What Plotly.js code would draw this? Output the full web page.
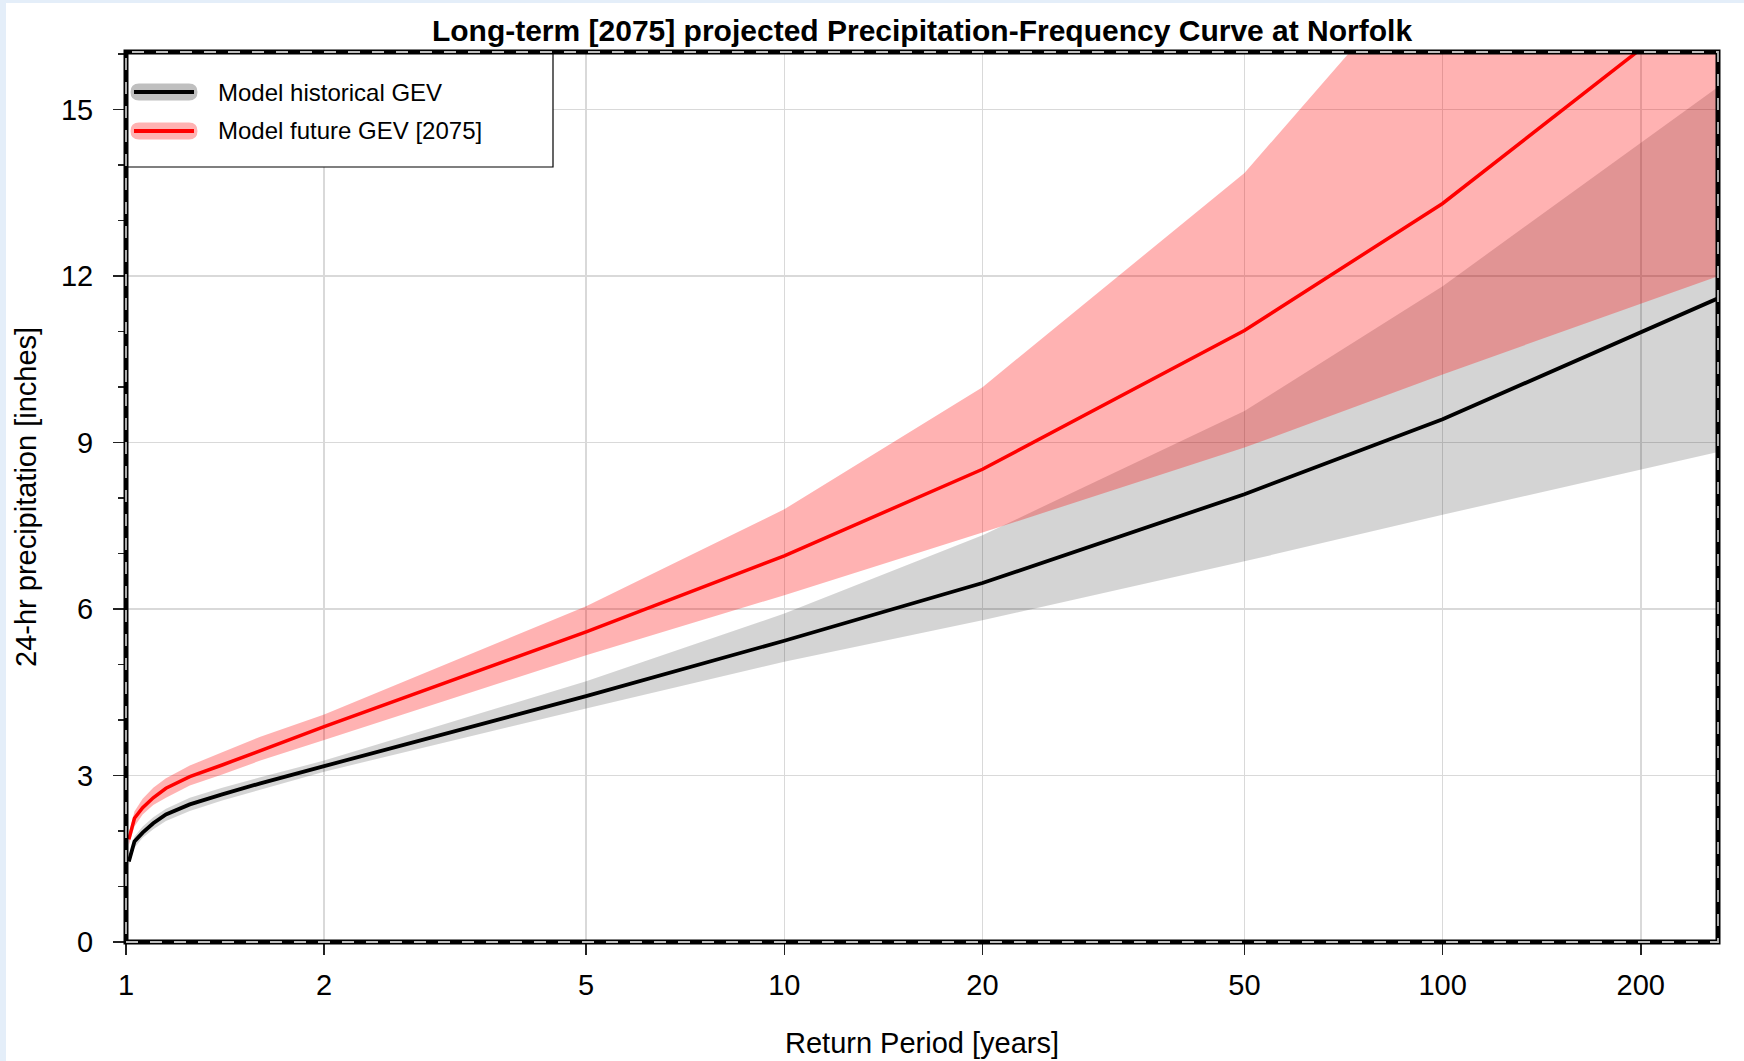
<!DOCTYPE html>
<html>
<head>
<meta charset="utf-8">
<script src="https://cdn.plot.ly/plotly-3.0.1.min.js"></script>
<style>
  html, body { margin: 0; padding: 0; background: #ffffff; }
  #chart { width: 1744px; height: 1061px; }
</style>
</head>
<body>
<div id="chart"></div>
<script>
// ---- Data ----
const returnPeriod = [1.01, 1.03, 1.06, 1.1, 1.15, 1.25, 1.4, 1.6, 2, 5, 10, 20, 50, 100, 262];

const histMedian = [1.45, 1.81, 1.97, 2.14, 2.3, 2.48, 2.66, 2.86, 3.17, 4.43, 5.43, 6.47, 8.07, 9.42, 11.6];
const histUpper  = [1.55, 1.9, 2.08, 2.25, 2.4, 2.6, 2.78, 2.97, 3.27, 4.7, 5.92, 7.33, 9.57, 11.82, 15.41];
const histLower  = [1.38, 1.7, 1.88, 2.03, 2.18, 2.36, 2.55, 2.74, 3.07, 4.21, 5.05, 5.8, 6.86, 7.7, 8.83];

const futMedian  = [1.85, 2.23, 2.42, 2.6, 2.77, 2.98, 3.19, 3.45, 3.88, 5.59, 6.96, 8.52, 11.02, 13.31, 17.18];
const futUpper   = [1.95, 2.35, 2.58, 2.78, 2.95, 3.18, 3.42, 3.7, 4.1, 6.05, 7.8, 10.0, 13.86, 17.96, 24.7];
const futLower   = [1.75, 2.08, 2.3, 2.47, 2.6, 2.82, 3.02, 3.27, 3.64, 5.17, 6.25, 7.38, 8.91, 10.23, 12.0];

const xTickVals = [1, 2, 5, 10, 20, 50, 100, 200];
const xTickText = ['1', '2', '5', '10', '20', '50', '100', '200'];
const yTickVals = [0, 3, 6, 9, 12, 15];

const seriesNames = ['Model historical GEV', 'Model future GEV [2075]'];
const titleText = 'Long-term [2075] projected Precipitation-Frequency Curve at Norfolk';
const xTitleText = 'Return Period [years]';
const yTitleText = '24-hr precipitation [inches]';

// ---- Styles ----
const FONT = '"Liberation Sans", Arial, Helvetica, sans-serif';
const grayBand = 'rgba(0,0,0,0.17)';
const redBand = 'rgba(255,0,0,0.30)';

const traces = [
  { x: returnPeriod, y: histLower, type: 'scatter', mode: 'lines', line: { width: 0, color: grayBand }, showlegend: false, hoverinfo: 'skip' },
  { x: returnPeriod, y: histUpper, type: 'scatter', mode: 'lines', line: { width: 0, color: grayBand }, fill: 'tonexty', fillcolor: grayBand, showlegend: false, hoverinfo: 'skip' },
  { x: returnPeriod, y: futLower, type: 'scatter', mode: 'lines', line: { width: 0, color: redBand }, showlegend: false, hoverinfo: 'skip' },
  { x: returnPeriod, y: futUpper, type: 'scatter', mode: 'lines', line: { width: 0, color: redBand }, fill: 'tonexty', fillcolor: redBand, showlegend: false, hoverinfo: 'skip' },
  { x: returnPeriod, y: histMedian, type: 'scatter', mode: 'lines', name: seriesNames[0], line: { width: 3.8, color: '#000000' }, showlegend: false },
  { x: returnPeriod, y: futMedian, type: 'scatter', mode: 'lines', name: seriesNames[1], line: { width: 3.5, color: '#ff0000' }, showlegend: false }
];

// plot area in pixels
const W = 1744, H = 1061;
const mL = 126, mR = 26, mT = 52, mB = 119;
const pw = W - mL - mR, ph = H - mT - mB;
const px = v => (v - mL) / pw;          // pixel x -> paper
const py = v => (H - mB - v) / ph;      // pixel y -> paper

function capsule(cx, cy, color) {
  return {
    type: 'path', layer: 'above',
    xref: 'paper', yref: 'paper', xsizemode: 'pixel', ysizemode: 'pixel',
    xanchor: px(cx), yanchor: py(cy),
    path: 'M -25 -8.5 L 25 -8.5 Q 33.5 -8.5 33.5 0 Q 33.5 8.5 25 8.5 L -25 8.5 Q -33.5 8.5 -33.5 0 Q -33.5 -8.5 -25 -8.5 Z',
    fillcolor: color, line: { width: 0 }
  };
}
function legLine(cx, cy, color) {
  return {
    type: 'line', layer: 'above',
    xref: 'paper', yref: 'paper', xsizemode: 'pixel', ysizemode: 'pixel',
    xanchor: px(cx), yanchor: py(cy),
    x0: -30, x1: 30, y0: 0, y1: 0,
    line: { color: color, width: 4 }
  };
}

const legY1 = 92, legY2 = 131, legCx = 164;

const shapes = [
  // light blue screenshot edge
  { type: 'rect', xref: 'paper', yref: 'paper', x0: px(0), x1: px(6), y0: py(H), y1: py(0), fillcolor: '#e4eef9', line: { width: 0 }, layer: 'below' },
  { type: 'rect', xref: 'paper', yref: 'paper', x0: px(0), x1: px(W), y0: py(3), y1: py(0), fillcolor: '#e4eef9', line: { width: 0 }, layer: 'below' },
  // legend box
  { type: 'rect', xref: 'paper', yref: 'paper', layer: 'above', x0: 0, x1: px(553), y0: py(167), y1: 1, fillcolor: '#ffffff', line: { color: '#000000', width: 1.2 } },
  capsule(legCx, legY1, 'rgba(0,0,0,0.25)'),
  legLine(legCx, legY1, '#000000'),
  capsule(legCx, legY2, 'rgba(255,0,0,0.30)'),
  legLine(legCx, legY2, '#ff0000'),
  // plot border: thick black with gray dashes
  { type: 'rect', xref: 'paper', yref: 'paper', layer: 'above', x0: 0, x1: 1, y0: 0, y1: 1, line: { color: '#000000', width: 5 } },
  { type: 'rect', xref: 'paper', yref: 'paper', layer: 'above', x0: 0, x1: 1, y0: 0, y1: 1, line: { color: '#bdbdbd', width: 1.8, dash: '12px,12px' } }
];

const annotations = [
  { text: seriesNames[0], xref: 'paper', yref: 'paper', x: px(216), y: py(legY1), xanchor: 'left', yanchor: 'middle', showarrow: false, font: { family: FONT, size: 24, color: '#000' } },
  { text: seriesNames[1], xref: 'paper', yref: 'paper', x: px(216), y: py(legY2), xanchor: 'left', yanchor: 'middle', showarrow: false, font: { family: FONT, size: 24, color: '#000' } },
  { text: xTitleText, xref: 'paper', yref: 'paper', x: 0.5, y: py(1043), xanchor: 'center', yanchor: 'middle', showarrow: false, font: { family: FONT, size: 29, color: '#000' } },
  { text: yTitleText, xref: 'paper', yref: 'paper', x: px(26), y: 0.5, xanchor: 'center', yanchor: 'middle', textangle: -90, showarrow: false, font: { family: FONT, size: 29, color: '#000' } }
];

const layout = {
  width: W, height: H,
  margin: { l: mL, r: mR, t: mT, b: mB, pad: 0 },
  paper_bgcolor: '#ffffff', plot_bgcolor: '#ffffff',
  showlegend: false,
  font: { family: FONT, color: '#000000' },
  title: {
    text: '<b>' + titleText + '</b>',
    font: { family: FONT, size: 30, color: '#000000' },
    xref: 'paper', x: 0.5, xanchor: 'center',
    yref: 'container', y: 1 - 30 / H, yanchor: 'middle'
  },
  xaxis: {
    type: 'log', range: [0, Math.log10(262)],
    tickmode: 'array', tickvals: xTickVals, ticktext: xTickText,
    ticks: 'outside', ticklen: 12, tickwidth: 1.5, tickcolor: '#222',
    ticklabelstandoff: 5,
    tickfont: { family: FONT, size: 29, color: '#000' },
    showgrid: true, gridcolor: '#d9d9d9', gridwidth: 1.5,
    zeroline: false, showline: false, fixedrange: true
  },
  yaxis: {
    range: [0, 16.04],
    tickmode: 'array', tickvals: yTickVals,
    ticks: 'outside', ticklen: 12, tickwidth: 1.5, tickcolor: '#222',
    ticklabelstandoff: 14,
    tickfont: { family: FONT, size: 29, color: '#000' },
    minor: { dtick: 1, tick0: 0, ticks: 'outside', ticklen: 7, tickwidth: 1.5, tickcolor: '#222', showgrid: false },
    showgrid: true, gridcolor: '#d9d9d9', gridwidth: 1.5,
    zeroline: false, showline: false, fixedrange: true
  },
  shapes: shapes,
  annotations: annotations
};

Plotly.newPlot('chart', traces, layout, { staticPlot: true, displayModeBar: false });
</script>
</body>
</html>
